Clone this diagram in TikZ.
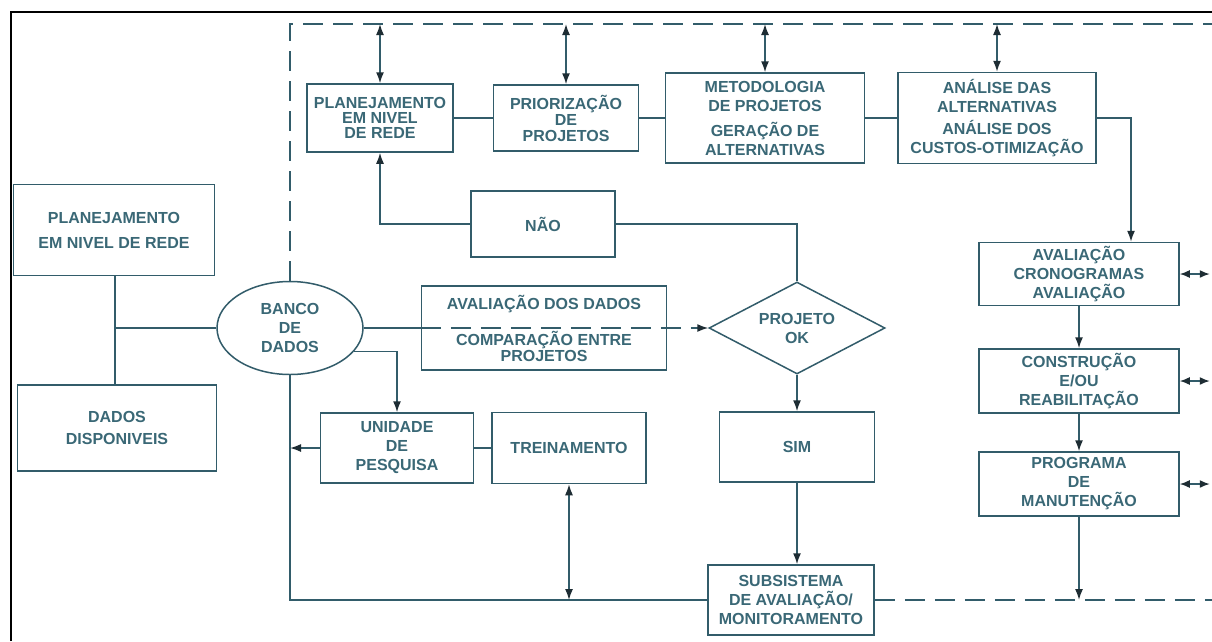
\documentclass[tikz,border=0pt]{standalone}
\usepackage{fontspec}
\setmainfont{Liberation Sans}
\usetikzlibrary{shapes.geometric,arrows.meta}
\definecolor{ink}{RGB}{50,92,106}
\definecolor{txt}{RGB}{58,104,118}
\definecolor{tip}{RGB}{30,45,52}
\begin{document}
\begin{tikzpicture}[x=1pt,y=-1pt,
 box/.style={draw=ink,line width=1.5pt,text=txt,font=\fontsize{16}{19}\selectfont\bfseries,align=center,inner sep=0pt},
 ln/.style={draw=ink,line width=1.5pt},
 arr/.style={ln,-{Latex[length=11pt,width=8pt,color=tip]}},
 darr/.style={ln,{Latex[length=11pt,width=8pt,color=tip]}-{Latex[length=11pt,width=8pt,color=tip]}},
 sarr/.style={ln,{Latex[length=10pt,width=8pt,color=tip]}-{Latex[length=10pt,width=8pt,color=tip]}},
 dsh/.style={ln,dash pattern=on 20pt off 10pt}]
\useasboundingbox (0,0) rectangle (1212,641);
\fill[white] (0,0) rectangle (1212,641);
\draw[black,line width=2pt] (11,641) -- (11,12) -- (1212,12);

% top row
\node[box,minimum width=146pt,minimum height=68pt] (pr1) at (380,118) {PLANEJAMENTO\\[-4pt]EM NIVEL\\[-4pt]DE REDE};
\node[box,minimum width=145pt,minimum height=66pt] (pri) at (566,118) {PRIORIZAÇÃO\\[-3pt]DE\\[-3pt]PROJETOS};
\node[box,minimum width=199pt,minimum height=90pt] (met) at (765,118) {METODOLOGIA\\DE PROJETOS\\[6pt]GERAÇÃO DE\\ALTERNATIVAS};
\node[box,minimum width=198pt,minimum height=91pt] (ana) at (997,118) {ANÁLISE DAS\\ALTERNATIVAS\\[3pt]ANÁLISE DOS\\CUSTOS-OTIMIZAÇÃO};
% right column
\node[box,minimum width=200pt,minimum height=63pt] (aval) at (1079,274) {AVALIAÇÃO\\CRONOGRAMAS\\AVALIAÇÃO};
\node[box,minimum width=200pt,minimum height=64pt] (cons) at (1079,381) {CONSTRUÇÃO\\E/OU\\REABILITAÇÃO};
\node[box,minimum width=200pt,minimum height=64pt] (prog) at (1079,484) {PROGRAMA\\DE\\MANUTENÇÃO};
% left column
\node[box,minimum width=201pt,minimum height=91pt] (pr0) at (114,230) {PLANEJAMENTO\\[6pt]EM NIVEL DE REDE};
\node[box,minimum width=199pt,minimum height=86pt] (dd) at (117,428) {DADOS\\[3pt]DISPONIVEIS};
\node[box,ellipse,minimum width=146pt,minimum height=93pt] (bd) at (290,328) {BANCO\\DE\\DADOS};
% middle
\node[box,minimum width=144pt,minimum height=66pt] (nao) at (543,224) {NÃO};
\node[box,minimum width=245pt,minimum height=84pt] (avd) at (544,328) {AVALIAÇÃO DOS DADOS\\[17pt]COMPARAÇÃO ENTRE\\[-3pt]PROJETOS};
\node[box,diamond,minimum width=176pt,minimum height=92pt,aspect=1.9] (proj) at (797,328) {PROJETO\\OK};
\node[box,minimum width=153pt,minimum height=70pt] (uni) at (397,448) {UNIDADE\\DE\\PESQUISA};
\node[box,minimum width=154pt,minimum height=71pt] (trei) at (569,448) {TREINAMENTO};
\node[box,minimum width=155pt,minimum height=70pt] (sim) at (797,447) {SIM};
\node[box,minimum width=166pt,minimum height=70pt] (sub) at (791,600) {SUBSISTEMA\\DE AVALIAÇÃO/\\MONITORAMENTO};

% dashed frame
\coordinate (dtl) at (290,24);
\coordinate (dtr) at (1212,24);
\coordinate (dbr) at (1212,600);
\draw[dsh] (bd.north) -- (dtl) -- (dtr);
\draw[dsh] (sub.east) -- (dbr);

% top double arrows
\draw[darr] (pr1.north |- dtl) -- (pr1.north);
\draw[darr] (pri.north |- dtl) -- (pri.north);
\draw[darr] (met.north |- dtl) -- (met.north);
\draw[darr] (ana.north |- dtl) -- (ana.north);

% top row links
\draw[ln] (pr1.east) -- (pri.west);
\draw[ln] (pri.east) -- (met.west);
\draw[ln] (met.east) -- (ana.west);
\draw[arr] (ana.east) -| ([xshift=52pt]aval.north);

% right column
\draw[arr] (aval.south) -- (cons.north);
\draw[arr] (cons.south) -- (prog.north);
\draw[arr] (prog.south) -- (prog.south |- dbr);
\draw[sarr] (aval.east) -- ([xshift=30pt]aval.east);
\draw[sarr] (cons.east) -- ([xshift=30pt]cons.east);
\draw[sarr] (prog.east) -- ([xshift=30pt]prog.east);

% left column
\draw[ln] (pr0.south -| 115,0) -- (dd.north -| 115,0);
\draw[ln] (bd.west) -- (bd.west -| 115,0);

% middle
\draw[arr] (nao.west) -| (pr1.south);
\draw[ln] (nao.east) -| (proj.north);
\draw[ln] (bd.east) -- (avd.west);
\draw[ln,dash pattern=on 20pt off 10pt,-{Latex[length=11pt,width=8pt,color=tip]}] (avd.west) -- (proj.west);
\draw[arr] (bd.-20) -| (uni.north);
\draw[ln] (bd.south) |- (sub.west);
\draw[arr] (uni.west) -- (uni.west -| bd.south);
\draw[ln] (uni.east) -- (trei.west);
\draw[darr] (trei.south) -- (trei.south |- sub.west);
\draw[arr] (proj.south) -- (sim.north);
\draw[arr] (sim.south) -- (sim.south |- sub.north);
\end{tikzpicture}
\end{document}
